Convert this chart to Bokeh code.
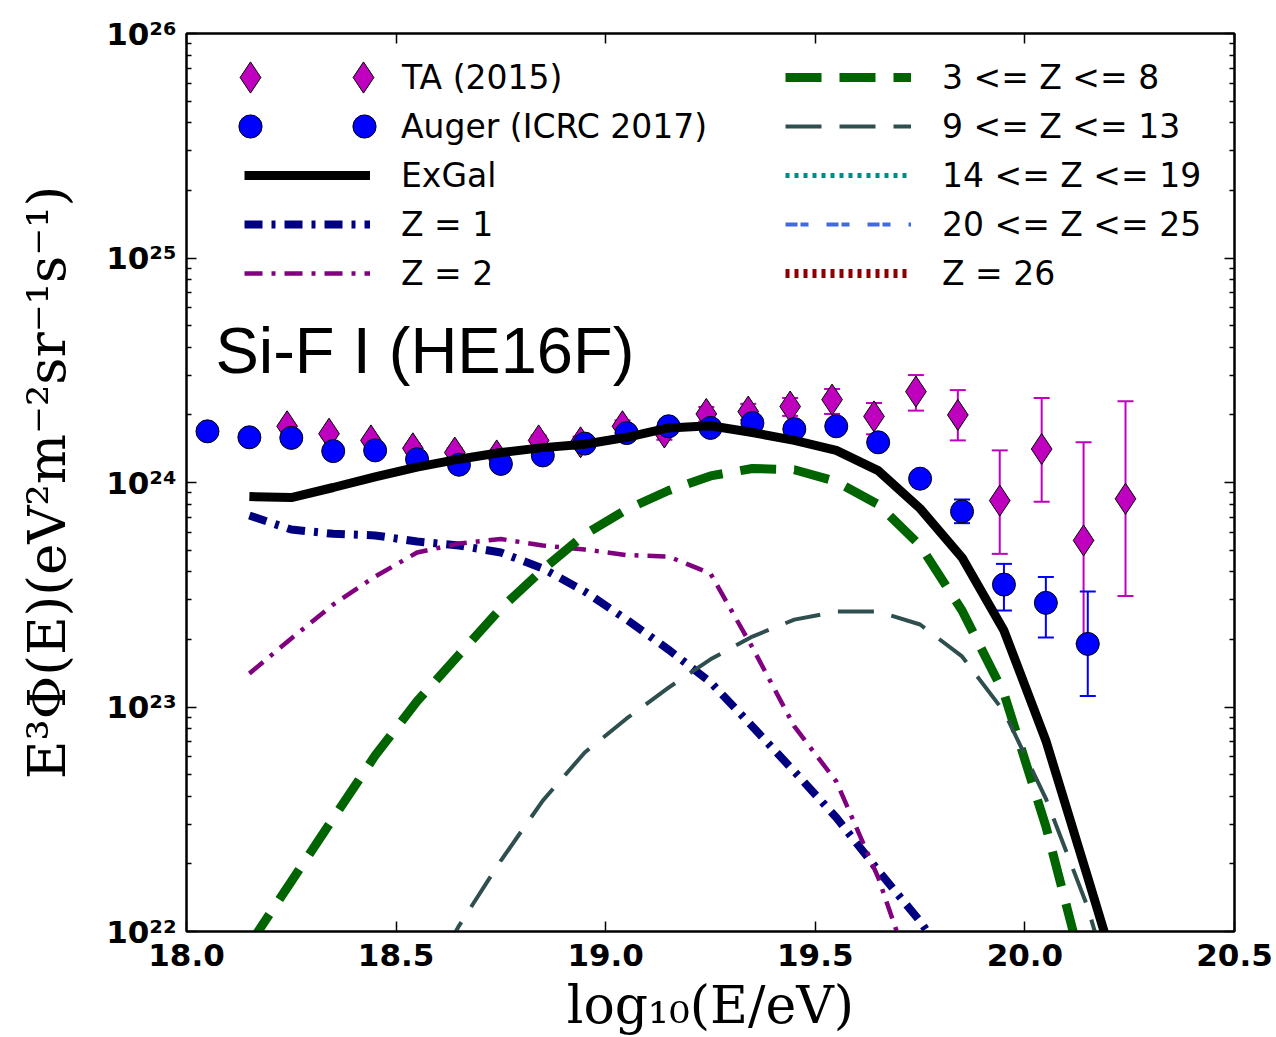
from bokeh.plotting import figure
from bokeh.models import (Range1d, LinearAxis, LogAxis, FixedTicker, Legend, LegendItem,
                          Whisker, TeeHead, ColumnDataSource, Label, CustomJSTickFormatter,
                          PrintfTickFormatter)
from bokeh.embed import file_html
from bokeh.resources import INLINE

# ---------------- data ----------------
auger_x = [18.05, 18.15, 18.25, 18.35, 18.45, 18.55, 18.65, 18.75, 18.85, 18.95, 19.05,
           19.15, 19.25, 19.35, 19.45, 19.55, 19.65, 19.75, 19.85, 19.95, 20.05, 20.15]
auger_y = [1.69e24, 1.59e24, 1.58e24, 1.38e24, 1.39e24, 1.27e24, 1.20e24, 1.21e24, 1.32e24,
           1.49e24, 1.66e24, 1.78e24, 1.75e24, 1.84e24, 1.73e24, 1.78e24, 1.51e24, 1.04e24,
           7.43e23, 3.51e23, 2.91e23, 1.91e23]
auger_lo = [1.66e24, 1.56e24, 1.55e24, 1.35e24, 1.36e24, 1.24e24, 1.17e24, 1.18e24, 1.28e24,
            1.45e24, 1.61e24, 1.72e24, 1.69e24, 1.77e24, 1.65e24, 1.69e24, 1.42e24, 0.96e24,
            6.59e23, 2.69e23, 2.04e23, 1.12e23]
auger_hi = [1.72e24, 1.62e24, 1.61e24, 1.41e24, 1.42e24, 1.30e24, 1.23e24, 1.24e24, 1.36e24,
            1.53e24, 1.71e24, 1.84e24, 1.81e24, 1.91e24, 1.81e24, 1.87e24, 1.60e24, 1.12e24,
            8.40e23, 4.34e23, 3.79e23, 3.27e23]

ta_x = [18.24, 18.34, 18.44, 18.54, 18.64, 18.74, 18.84, 18.94, 19.04, 19.14, 19.24,
        19.34, 19.44, 19.54, 19.64, 19.74, 19.84, 19.94, 20.04, 20.14, 20.24]
ta_y = [1.78e24, 1.65e24, 1.54e24, 1.42e24, 1.36e24, 1.32e24, 1.54e24, 1.51e24, 1.78e24,
        1.67e24, 2.02e24, 2.07e24, 2.18e24, 2.34e24, 1.97e24, 2.54e24, 2.00e24, 8.31e23,
        1.41e24, 5.52e23, 8.46e23]
ta_lo = [1.72e24, 1.59e24, 1.48e24, 1.36e24, 1.30e24, 1.26e24, 1.46e24, 1.42e24, 1.67e24,
         1.55e24, 1.87e24, 1.90e24, 1.98e24, 2.02e24, 1.64e24, 2.09e24, 1.54e24, 4.81e23,
         8.20e23, 1.92e23, 3.12e23]
ta_hi = [1.84e24, 1.71e24, 1.60e24, 1.48e24, 1.42e24, 1.38e24, 1.62e24, 1.60e24, 1.89e24,
         1.79e24, 2.17e24, 2.24e24, 2.38e24, 2.61e24, 2.26e24, 3.01e24, 2.58e24, 1.39e24,
         2.38e24, 1.51e24, 2.30e24]

exgal_x = [18.15, 18.25, 18.35, 18.45, 18.55, 18.65, 18.75, 18.85, 18.95, 19.05, 19.15,
           19.25, 19.35, 19.45, 19.55, 19.65, 19.75, 19.85, 19.95, 20.05, 20.15, 20.25]
exgal_y = [8.66e23, 8.57e23, 9.50e23, 1.06e24, 1.17e24, 1.27e24, 1.36e24, 1.43e24, 1.48e24,
           1.59e24, 1.75e24, 1.79e24, 1.67e24, 1.54e24, 1.39e24, 1.13e24, 7.66e23, 4.63e23,
           2.19e23, 7.09e22, 1.74e22, 4.2e21]

z1_x = [18.15, 18.25, 18.35, 18.45, 18.55, 18.65, 18.75, 18.85, 18.95, 19.05, 19.15,
        19.25, 19.35, 19.45, 19.55, 19.65, 19.75, 19.85]
z1_y = [7.13e23, 6.17e23, 5.91e23, 5.81e23, 5.46e23, 5.24e23, 4.88e23, 4.14e23, 3.27e23,
        2.45e23, 1.80e23, 1.29e23, 8.19e22, 5.16e22, 3.22e22, 1.87e22, 1.11e22, 6.0e21]

z2_x = [18.15, 18.25, 18.35, 18.45, 18.55, 18.65, 18.75, 18.85, 18.95, 19.05, 19.15,
        19.25, 19.35, 19.45, 19.55, 19.65, 19.75]
z2_y = [1.41e23, 2.02e23, 2.86e23, 3.81e23, 4.88e23, 5.35e23, 5.60e23, 5.24e23, 5.03e23,
        4.75e23, 4.68e23, 3.93e23, 1.84e23, 8.19e22, 4.66e22, 1.74e22, 5.0e21]

z3_8_x = [18.15, 18.25, 18.35, 18.45, 18.55, 18.65, 18.75, 18.85, 18.95, 19.05, 19.15,
          19.25, 19.35, 19.45, 19.55, 19.65, 19.75, 19.85, 19.95, 20.05, 20.15]
z3_8_y = [8.75e21, 1.67e22, 3.19e22, 6.08e22, 1.06e23, 1.71e23, 2.75e23, 4.10e23, 5.87e23,
          7.58e23, 9.21e23, 1.07e24, 1.155e24, 1.14e24, 1.01e24, 7.98e23, 5.24e23, 2.69e23,
          1.15e23, 2.94e22, 5.6e21]

z9_13_x = [18.55, 18.65, 18.75, 18.85, 18.95, 19.05, 19.15, 19.25, 19.35, 19.45, 19.55,
           19.65, 19.75, 19.85, 19.95, 20.05, 20.15, 20.25]
z9_13_y = [4.93e21, 1.06e22, 2.07e22, 3.83e22, 6.27e22, 8.89e22, 1.22e23, 1.63e23, 2.06e23,
           2.45e23, 2.66e23, 2.66e23, 2.33e23, 1.68e23, 9.55e22, 3.91e22, 1.28e22, 2.9e21]

# these three components never rise into the plotted window (no value is readable)
NAN = float("nan")
z14_19_x, z14_19_y = [18.15, 20.25], [NAN, NAN]
z20_25_x, z20_25_y = [18.15, 20.25], [NAN, NAN]
z26_x, z26_y = [18.15, 20.25], [NAN, NAN]

x_ticks = [18.0, 18.5, 19.0, 19.5, 20.0, 20.5]
y_major = [1e22, 1e23, 1e24, 1e25, 1e26]

title_text = "Si-F I (HE16F)"
x_label = "log\u2081\u2080(E/eV)"
y_label = "E\u00b3\u03a6(E)(eV\u00b2m\u207b\u00b2sr\u207b\u00b9s\u207b\u00b9)"

TA_C = "#BF00BF"
AU_C = "#0000FF"

# ---------------- figure ----------------
FL, FT, FB = 186, 33, 931   # frame left / top / bottom in page pixels
p = figure(width=1276, height=1037, y_axis_type="log",
           x_range=Range1d(18.0, 20.5), y_range=Range1d(1e22, 1e26),
           output_backend="svg", toolbar_location=None,
           min_border_left=FL, min_border_right=42, min_border_top=FT,
           min_border_bottom=1037 - FB)
p.xgrid.visible = False
p.ygrid.visible = False
p.outline_line_color = "black"
p.outline_line_width = 2
p.background_fill_color = "white"
p.border_fill_color = "white"

y_minor = [k * d for d in y_major[:-1] for k in range(2, 10)]
xt = FixedTicker(ticks=x_ticks, minor_ticks=[])
yt = FixedTicker(ticks=y_major, minor_ticks=y_minor)

sup_fmt = CustomJSTickFormatter(code="""
const s = {'0':'\\u2070','1':'\\u00b9','2':'\\u00b2','3':'\\u00b3','4':'\\u2074',
           '5':'\\u2075','6':'\\u2076','7':'\\u2077','8':'\\u2078','9':'\\u2079','-':'\\u207b'};
const e = Math.round(Math.log10(tick));
return '10' + String(e).split('').map(c => s[c]).join('');
""")
empty_fmt = CustomJSTickFormatter(code="return '';")


def style(ax):
    ax.axis_line_color = "black"
    ax.axis_line_width = 2
    ax.major_tick_in = 10
    ax.major_tick_out = 0
    ax.minor_tick_in = 5
    ax.minor_tick_out = 0
    ax.major_tick_line_width = 1.5
    ax.minor_tick_line_width = 1.5
    ax.major_tick_line_color = "black"
    ax.minor_tick_line_color = "black"
    ax.major_label_text_font = "DejaVu Sans"
    ax.major_label_text_font_style = "bold"
    ax.major_label_text_font_size = "31px"
    ax.major_label_text_color = "black"
    ax.axis_label_text_color = "black"


xa = p.xaxis[0]
xa.ticker = xt
xa.formatter = PrintfTickFormatter(format="%.1f")
style(xa)
xa.major_label_standoff = 12
xa.axis_label = x_label
xa.axis_label_text_font = "DejaVu Serif"
xa.axis_label_text_font_style = "normal"
xa.axis_label_text_font_size = "52px"
xa.axis_label_standoff = 6

ya = p.yaxis[0]
ya.ticker = yt
ya.formatter = sup_fmt
style(ya)
ya.major_label_standoff = 10
ya.axis_label = y_label
ya.axis_label_text_font = "DejaVu Serif"
ya.axis_label_text_font_style = "normal"
ya.axis_label_text_font_size = "53px"
ya.axis_label_standoff = 26

top = LinearAxis(ticker=xt, formatter=empty_fmt)
style(top)
p.add_layout(top, "above")
right = LogAxis(ticker=yt, formatter=empty_fmt)
style(right)
p.add_layout(right, "right")

# ---------------- data points ----------------
ta_src = ColumnDataSource(dict(x=ta_x, y=ta_y, lo=ta_lo, hi=ta_hi))
au_src = ColumnDataSource(dict(x=auger_x, y=auger_y, lo=auger_lo, hi=auger_hi))

for src, col in ((ta_src, TA_C), (au_src, AU_C)):
    w = Whisker(source=src, base="x", lower="lo", upper="hi", dimension="height",
                line_color=col, line_width=2, level="underlay",
                upper_head=TeeHead(size=16, line_color=col, line_width=2),
                lower_head=TeeHead(size=16, line_color=col, line_width=2))
    p.add_layout(w)

ta_r = p.scatter("x", "y", source=ta_src, marker="diamond", size=31,
                 fill_color=TA_C, line_color="black", line_width=1)
au_r = p.scatter("x", "y", source=au_src, marker="circle", size=23,
                 fill_color=AU_C, line_color="black", line_width=1)

# ---------------- model lines ----------------
ex_r = p.line(exgal_x, exgal_y, line_color="black", line_width=9)
z1_r = p.line(z1_x, z1_y, line_color="#000080", line_width=8, line_dash="18 9 4 9")
z2_r = p.line(z2_x, z2_y, line_color="#800080", line_width=4.5, line_dash="18 9 4 9")
z38_r = p.line(z3_8_x, z3_8_y, line_color="#006400", line_width=9, line_dash="36 18")
z913_r = p.line(z9_13_x, z9_13_y, line_color="#2F4F4F", line_width=4, line_dash="36 18")
z1419_r = p.line(z14_19_x, z14_19_y, line_color="#008B8B", line_width=5, line_dash="4 5")
z2025_r = p.line(z20_25_x, z20_25_y, line_color="#4169E1", line_width=4, line_dash="12 3 8 18")
z26_r = p.line(z26_x, z26_y, line_color="#8B0000", line_width=9, line_dash="4 5")

# ---------------- legend (one single-row legend per entry) ----------------
def add_leg(label, renderer, left, center, gw, gh, standoff):
    h = max(gh, 40)
    leg = Legend(items=[LegendItem(label=label, renderers=[renderer])],
                 location=(left - FL, FB - (center + h / 2)), orientation="vertical",
                 glyph_width=gw, glyph_height=gh, label_height=20, spacing=0,
                 padding=0, margin=0, label_standoff=standoff,
                 border_line_color=None, background_fill_alpha=0,
                 label_text_font="DejaVu Sans", label_text_font_size="33px",
                 label_text_color="black")
    p.add_layout(leg)

rows = [77, 126, 175, 224, 273]
# markers: two per entry (left one without text)
add_leg(" ", ta_r, 250 - 39, rows[0], 78, 78, 0)
add_leg("TA (2015)", ta_r, 363 - 39, rows[0], 78, 78, 0)
add_leg(" ", au_r, 250 - 29, rows[1], 58, 58, 0)
add_leg("Auger (ICRC 2017)", au_r, 364 - 29, rows[1], 58, 58, 8)
add_leg("ExGal", ex_r, 244, rows[2], 126, 40, 31)
add_leg("Z = 1", z1_r, 244, rows[3], 126, 40, 31)
add_leg("Z = 2", z2_r, 244, rows[4], 126, 40, 31)
add_leg("3 <= Z <= 8", z38_r, 785, rows[0], 126, 40, 31)
add_leg("9 <= Z <= 13", z913_r, 785, rows[1], 126, 40, 31)
add_leg("14 <= Z <= 19", z1419_r, 785, rows[2], 126, 40, 31)
add_leg("20 <= Z <= 25", z2025_r, 785, rows[3], 126, 40, 31)
add_leg("Z = 26", z26_r, 785, rows[4], 126, 40, 31)

p.add_layout(Label(x=18.069, y=3.88e24, text=title_text, text_font="Liberation Sans",
                   text_font_size="65px", text_baseline="alphabetic", text_align="left",
                   text_color="black"))

open("out.html", "w").write(file_html(p, INLINE))
